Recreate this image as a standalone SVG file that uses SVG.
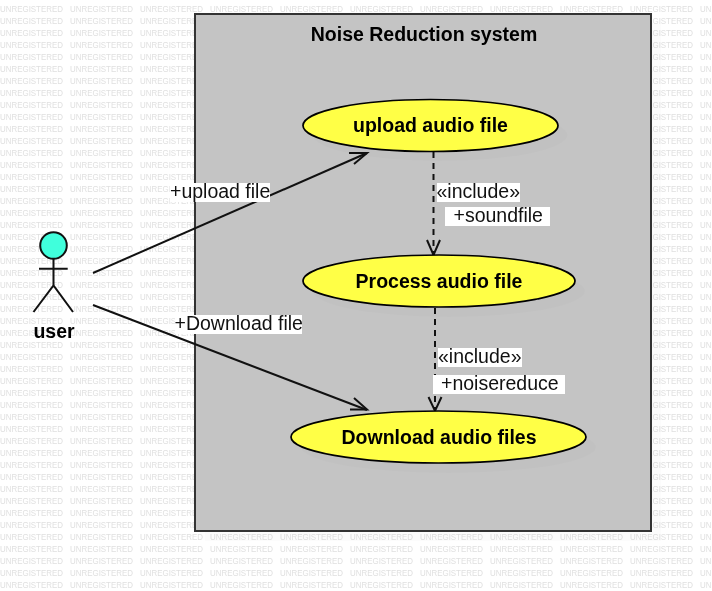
<svg xmlns="http://www.w3.org/2000/svg" xmlns:xlink="http://www.w3.org/1999/xlink" width="712" height="591" viewBox="0 0 712 591">
<style>
text{font-family:"Liberation Sans",Arial,sans-serif;fill:#000}
.wm{font-size:9px;fill:#e0e0e0}
.name{font-size:19.500px;font-weight:bold;text-anchor:middle}
.lbl{font-size:19.500px;fill:#111}
.bg{fill:#fff}
.uc{fill:#ffff46;stroke:#000;stroke-width:1.7}
.sh{fill:#000;opacity:.012}
.act{fill:none;stroke:#111;stroke-width:2}
.con{fill:none;stroke:#111;stroke-width:2}
.dash{stroke-dasharray:6 5}
.head{fill:none;stroke:#111;stroke-width:2}
</style>
<defs>
<filter id="gray" x="0" y="0" width="100%" height="100%" color-interpolation-filters="sRGB"><feColorMatrix type="saturate" values="0"/><feGaussianBlur stdDeviation="0.3"/></filter>
<g id="row">
<text class="wm" x="0" textLength="63" lengthAdjust="spacingAndGlyphs">UNREGISTERED</text>
<text class="wm" x="70" textLength="63" lengthAdjust="spacingAndGlyphs">UNREGISTERED</text>
<text class="wm" x="140" textLength="63" lengthAdjust="spacingAndGlyphs">UNREGISTERED</text>
<text class="wm" x="210" textLength="63" lengthAdjust="spacingAndGlyphs">UNREGISTERED</text>
<text class="wm" x="280" textLength="63" lengthAdjust="spacingAndGlyphs">UNREGISTERED</text>
<text class="wm" x="350" textLength="63" lengthAdjust="spacingAndGlyphs">UNREGISTERED</text>
<text class="wm" x="420" textLength="63" lengthAdjust="spacingAndGlyphs">UNREGISTERED</text>
<text class="wm" x="490" textLength="63" lengthAdjust="spacingAndGlyphs">UNREGISTERED</text>
<text class="wm" x="560" textLength="63" lengthAdjust="spacingAndGlyphs">UNREGISTERED</text>
<text class="wm" x="630" textLength="63" lengthAdjust="spacingAndGlyphs">UNREGISTERED</text>
<text class="wm" x="700" textLength="63" lengthAdjust="spacingAndGlyphs">UNREGISTERED</text>
</g>
</defs>
<rect width="712" height="591" fill="#fff"/>
<g id="watermark" filter="url(#gray)">
<rect width="712" height="591" fill="#fff"/>
<use href="#row" y="12"/><use href="#row" y="24"/><use href="#row" y="36"/><use href="#row" y="48"/><use href="#row" y="60"/><use href="#row" y="72"/><use href="#row" y="84"/><use href="#row" y="96"/><use href="#row" y="108"/><use href="#row" y="120"/>
<use href="#row" y="132"/><use href="#row" y="144"/><use href="#row" y="156"/><use href="#row" y="168"/><use href="#row" y="180"/><use href="#row" y="192"/><use href="#row" y="204"/><use href="#row" y="216"/><use href="#row" y="228"/><use href="#row" y="240"/>
<use href="#row" y="252"/><use href="#row" y="264"/><use href="#row" y="276"/><use href="#row" y="288"/><use href="#row" y="300"/><use href="#row" y="312"/><use href="#row" y="324"/><use href="#row" y="336"/><use href="#row" y="348"/><use href="#row" y="360"/>
<use href="#row" y="372"/><use href="#row" y="384"/><use href="#row" y="396"/><use href="#row" y="408"/><use href="#row" y="420"/><use href="#row" y="432"/><use href="#row" y="444"/><use href="#row" y="456"/><use href="#row" y="468"/><use href="#row" y="480"/>
<use href="#row" y="492"/><use href="#row" y="504"/><use href="#row" y="516"/><use href="#row" y="528"/><use href="#row" y="540"/><use href="#row" y="552"/><use href="#row" y="564"/><use href="#row" y="576"/><use href="#row" y="588"/>
</g>
<g id="system">
<rect class="sh" x="205" y="24" width="456" height="517"/>
<rect x="195" y="14" width="456" height="517" fill="#c4c4c4" stroke="#333" stroke-width="2"/>
<text x="424" y="41" class="name">Noise Reduction system</text>
</g>
<g id="connectors">
<path class="con" d="M93 273L367 153"/>
<path class="head" d="M349 153L367 153L354 164"/>
<path class="con" d="M93 305L367 410"/>
<path class="head" d="M354 398L367 409.500L350 409.500"/>
<path class="con dash" d="M433.500 152V255"/>
<path class="head" d="M427 240L433.500 255L440 240"/>
<path class="con dash" d="M435 308V411"/>
<path class="head" d="M428.500 397L435 411L441.500 397"/>
</g>
<g id="label-upload"><rect class="bg" x="170" y="183" width="100" height="19"/><text class="lbl" x="170" y="198">+upload file</text></g>
<g id="label-download"><rect class="bg" x="175" y="315" width="127" height="19"/><text class="lbl" x="174.500" y="330">+Download file</text></g>
<g id="label-include-1"><rect class="bg" x="437" y="183" width="83" height="19"/><text class="lbl" x="436.500" y="198">«include»</text></g>
<g id="label-soundfile"><rect class="bg" x="445" y="207" width="105" height="19"/><text class="lbl" x="453.500" y="222">+soundfile</text></g>
<g id="label-include-2"><rect class="bg" x="438" y="348" width="84" height="19"/><text class="lbl" x="438" y="363">«include»</text></g>
<g id="label-noisereduce"><rect class="bg" x="433" y="375" width="132" height="19"/><text class="lbl" x="441" y="390">+noisereduce</text></g>
<g id="uc-upload">
<ellipse class="sh" cx="440" cy="135" rx="127.500" ry="26"/>
<ellipse class="uc" cx="430.500" cy="125.500" rx="127.500" ry="26"/>
<text class="name" x="430.500" y="132">upload audio file</text>
</g>
<g id="uc-process">
<ellipse class="sh" cx="449" cy="291" rx="136" ry="26"/>
<ellipse class="uc" cx="439" cy="281" rx="136" ry="26"/>
<text class="name" x="439" y="288">Process audio file</text>
</g>
<g id="uc-download">
<ellipse class="sh" cx="448.500" cy="447" rx="147.500" ry="26"/>
<ellipse class="uc" cx="438.500" cy="437" rx="147.500" ry="26"/>
<text class="name" x="439" y="444">Download audio files</text>
</g>
<g id="actor-user">
<circle cx="53.500" cy="245.500" r="13.300" fill="#40ffdc" stroke="#111" stroke-width="2"/>
<path class="act" d="M53.500 259V285.500M39 268.700H67.700M33.500 312L53.500 285.500L73 312"/>
<text x="54" y="338" font-size="19.500" font-weight="bold" text-anchor="middle">user</text>
</g>
</svg>
